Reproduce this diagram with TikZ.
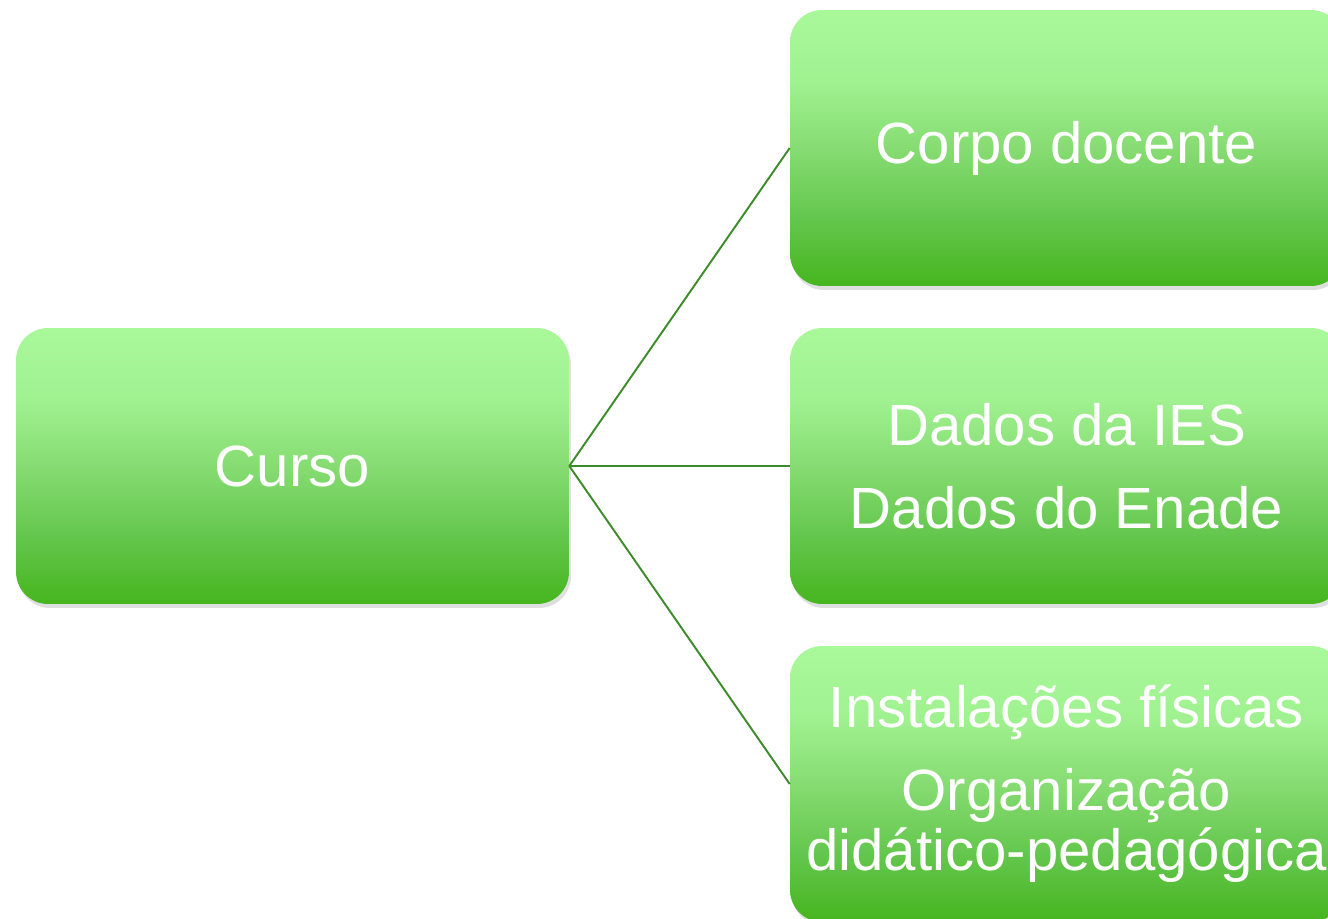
\documentclass[tikz,border=0pt]{standalone}
\usepackage{fontspec}
\setmainfont{Liberation Sans}
\usetikzlibrary{shadows}

\definecolor{linegreen}{HTML}{3D8B2A}
\definecolor{gdark}{HTML}{46B51E}
\definecolor{glow}{HTML}{63C64C}
\definecolor{gmid}{HTML}{86DC72}
\definecolor{ghigh}{HTML}{A0F190}
\definecolor{glight}{HTML}{A9F99B}
\pgfdeclareverticalshading{boxshade}{100bp}{color(0bp)=(gdark); color(25bp)=(gdark); color(37bp)=(glow); color(50bp)=(gmid); color(62bp)=(ghigh); color(75bp)=(glight); color(100bp)=(glight)}

\begin{document}
\begin{tikzpicture}[x=0.02cm, y=-0.02cm,
	box/.style={rounded corners=0.64cm, minimum width=11.06cm, minimum height=5.52cm,
		inner sep=0pt, shading=boxshade, text=white, align=center,
		font=\fontsize{33.1pt}{34.1pt}\selectfont,
		drop shadow={shadow xshift=0.04cm, shadow yshift=-0.08cm, opacity=0.25}},
	link/.style={draw=linegreen, line width=1.1pt}]

	\useasboundingbox (0,0) rectangle (1328,919);

	% root box
	\node[box] (curso) at (292.5,466) {Curso};

	% right boxes
	\node[box] (corpo) at (1066.5,148) {Corpo docente};
	\node[box] (dados) at (1066.5,466) {Dados da IES\\[13.1pt]Dados do Enade};
	\node[box] (inst) at (1066.5,784) {Instalações físicas\\[13.1pt]Organização\\didático-pedagógica};

	% connectors
	\foreach \t in {corpo,dados,inst} {
		\draw[link] (curso.east) -- (\t.west);
	}

\end{tikzpicture}
\end{document}
